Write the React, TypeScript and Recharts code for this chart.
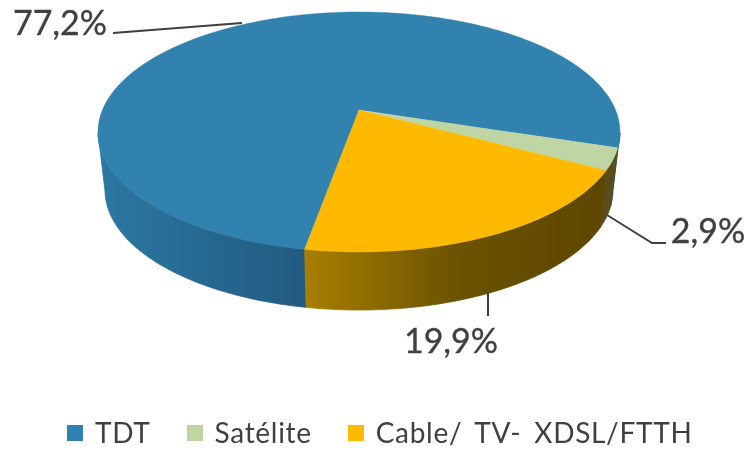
import React from "react";
import { PieChart, Pie, Legend } from "recharts";

const categories = ["TDT", "Satélite", "Cable/ TV- XDSL/FTTH"];
const shares = [77.2, 2.9, 19.9];
const topColors = ["#3182ae", "#bfd5a3", "#fdba00"];
const wallFills = ["url(#wallTdt)", "#5a4c1a", "url(#wallCable)"];

const labelAnchors = [
  { text: [60, 35], line: [[113, 33], [242, 23]] },
  { text: [708, 243], line: [[607, 215], [652, 243], [666, 243]] },
  { text: [451, 353], line: [[488, 292], [488, 316]] },
];

const data = categories.map((name, i) => ({ name, value: shares[i], fill: topColors[i] }));

const RX_TOP = 261;
const RX_BOTTOM = 254;
const DEPTH = 58;
const TILT = -0.183;
const FONT = "Lato, 'Open Sans', sans-serif";
const INK = "#404040";

function project(deg: number) {
  const r = (deg * Math.PI) / 180;
  const u = Math.cos(r);
  const v = -Math.sin(r);
  const k = 1 + TILT * v;
  return { X: (u * Math.sqrt(1 - TILT * TILT)) / k, Y: (v + TILT) / k };
}

function samples(a0: number, a1: number) {
  const n = Math.max(2, Math.ceil(Math.abs(a1 - a0)));
  return Array.from({ length: n + 1 }, (_, i) => a0 + ((a1 - a0) * i) / n);
}

function TopShape(p: any) {
  const { cx, cy, outerRadius: ry, startAngle, endAngle, fill } = p;
  const pts = samples(startAngle, endAngle).map((a) => {
    const q = project(a);
    return `${cx + RX_TOP * q.X},${cy + ry * q.Y}`;
  });
  const apex = `${cx},${cy + ry * TILT}`;
  return <path d={`M${apex}L${pts.join("L")}Z`} fill={fill} stroke={fill} strokeWidth={0.4} />;
}

function WallShape(p: any) {
  const { cx, cy, outerRadius: ry, startAngle, endAngle, index } = p;
  const runs: number[][] = [];
  let run: number[] = [];
  samples(startAngle, endAngle).forEach((a) => {
    if (project(a).Y >= 0) run.push(a);
    else if (run.length) {
      runs.push(run);
      run = [];
    }
  });
  if (run.length) runs.push(run);
  const d = runs
    .map((angles) => {
      const top = angles.map((a) => {
        const q = project(a);
        return `${cx + RX_TOP * q.X},${cy + ry * q.Y}`;
      });
      const bottom = [...angles].reverse().map((a) => {
        const q = project(a);
        return `${cx + RX_BOTTOM * q.X},${cy + DEPTH + ry * q.Y}`;
      });
      return `M${top.join("L")}L${bottom.join("L")}Z`;
    })
    .join("");
  return <path d={d} fill={wallFills[index]} stroke={wallFills[index]} strokeWidth={0.8} />;
}

function renderLabel(p: any) {
  const a = labelAnchors[p.index];
  return (
    <g key={p.index}>
      <polyline
        points={a.line.map((c) => c.join(",")).join(" ")}
        fill="none"
        stroke={INK}
        strokeWidth={2}
      />
      <text
        x={a.text[0]}
        y={a.text[1]}
        textAnchor="middle"
        fontFamily={FONT}
        fontSize={34}
        fill={INK}
        stroke={INK}
        strokeWidth={0.35}
      >
        {`${shares[p.index].toFixed(1).replace(".", ",")}%`}
      </text>
    </g>
  );
}

function LegendRow({ payload }: any) {
  const seen = new Set<string>();
  const items = (payload || []).filter((e: any) => {
    if (e.type === "none" || seen.has(e.value)) return false;
    seen.add(e.value);
    return true;
  });
  return (
    <div
      style={{
        display: "flex",
        alignItems: "center",
        whiteSpace: "nowrap",
        fontFamily: FONT,
        fontSize: 28,
        letterSpacing: 0.7,
        wordSpacing: 5,
        color: INK,
        lineHeight: "34px",
      }}
    >
      {items.map((e: any) => (
        <span key={e.value} style={{ display: "flex", alignItems: "center", marginRight: 36 }}>
          <span
            style={{
              width: 16,
              height: 16,
              background: e.color,
              marginRight: 12,
              display: "inline-block",
              position: "relative",
              top: 1,
            }}
          />
          {e.value}
        </span>
      ))}
    </div>
  );
}

export default function App() {
  return (
    <div style={{ position: "absolute", left: 0, top: 0, width: 748, height: 450, filter: "blur(0.5px)" }}>
      <PieChart width={748} height={450} margin={{ top: 0, right: 0, bottom: 0, left: 0 }}>
        <defs>
          <linearGradient id="wallTdt" gradientUnits="userSpaceOnUse" x1="98" y1="0" x2="305" y2="0">
            <stop offset="0" stopColor="#2b78a3" />
            <stop offset="1" stopColor="#225a80" />
          </linearGradient>
          <linearGradient id="wallCable" gradientUnits="userSpaceOnUse" x1="305" y1="0" x2="610" y2="0">
            <stop offset="0" stopColor="#a87f00" />
            <stop offset="0.5" stopColor="#6b5200" />
            <stop offset="1" stopColor="#5c4600" />
          </linearGradient>
        </defs>
        <Pie
          data={data}
          dataKey="value"
          nameKey="name"
          cx={359}
          cy={132}
          outerRadius={120}
          startAngle={-100}
          endAngle={-460}
          stroke="none"
          legendType="none"
          shape={WallShape}
          isAnimationActive={false}
        />
        <Pie
          data={data}
          dataKey="value"
          nameKey="name"
          cx={359}
          cy={132}
          outerRadius={120}
          startAngle={-100}
          endAngle={-460}
          stroke="none"
          legendType="square"
          shape={TopShape}
          label={renderLabel}
          labelLine={false}
          isAnimationActive={false}
        />
        <Legend
          content={<LegendRow />}
          itemSorter={null}
          wrapperStyle={{ position: "absolute", left: 67, top: 415, width: 680, bottom: "auto" }}
        />
      </PieChart>
    </div>
  );
}
